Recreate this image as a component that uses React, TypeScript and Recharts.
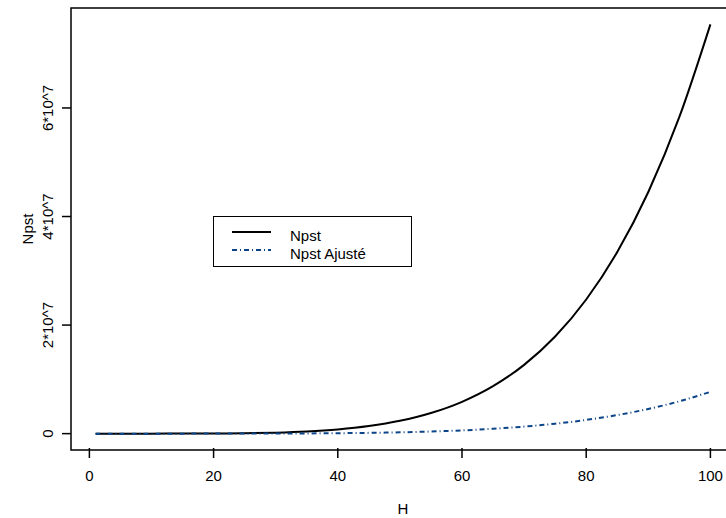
import React from "react";
import { LineChart, Line, XAxis, YAxis, ReferenceArea, Legend } from "recharts";

// values
const hValues = [1, 5, 10, 15, 20, 25, 30, 35, 40, 45, 50, 55, 60, 65, 70, 75, 80, 85, 90, 95, 100];
const npst = [
  0, 24, 754, 5725, 24130, 73630, 183200, 395900, 772100, 1391000, 2356000, 3795000,
  5863000, 8749000, 12670000, 17890000, 24710000, 33460000, 44520000, 58340000, 75400000,
];
const npstAjuste = [
  0, 2, 77, 585, 2460, 7520, 18700, 40400, 78800, 142000, 241000, 388000,
  599000, 893000, 1294000, 1827000, 2523000, 3417000, 4547000, 5958000, 7700000,
];

const xTicks = [0, 20, 40, 60, 80, 100];
const yTicks = [0, 20000000, 40000000, 60000000];
const yTickLabels = ["0", "2*10^7", "4*10^7", "6*10^7"];
const seriesNames = ["Npst", "Npst Ajusté"];

const xDomain = [-2.96, 103.96];
const yDomain = [-3016000, 78416000];

const FONT = '"Liberation Sans", Arial, Helvetica, sans-serif';
const BLUE = "#0B4587";

const data = hValues.map((h, i) => ({ h, npst: npst[i], ajuste: npstAjuste[i] }));

const XTick = ({ x, y, payload }: any) => (
  <g>
    <line x1={x} x2={x} y1={y - 10} y2={y} stroke="#000" strokeWidth={1.5} />
    <text x={x} y={y + 17} textAnchor="middle" dominantBaseline="central" fontSize={15} fontFamily={FONT} fill="#000">
      {payload.value}
    </text>
  </g>
);

const YTick = ({ x, y, payload }: any) => {
  const idx = yTicks.indexOf(payload.value);
  const lx = 48;
  return (
    <g>
      <line x1={62} x2={71} y1={y} y2={y} stroke="#000" strokeWidth={1.5} />
      <text
        x={lx}
        y={y}
        transform={`rotate(-90 ${lx} ${y})`}
        textAnchor="middle"
        dominantBaseline="central"
        fontSize={15}
        fontFamily={FONT}
        fill="#000"
      >
        {idx >= 0 ? yTickLabels[idx] : payload.value}
      </text>
    </g>
  );
};

const LegendBox = () => (
  <div
    style={{
      position: "absolute",
      left: 213,
      top: 216,
      width: 199,
      height: 51,
      border: "1.5px solid #000",
      background: "#fff",
      boxSizing: "border-box",
    }}
  >
    <svg width={196} height={48} style={{ position: "absolute", left: 0, top: 0 }}>
      <line x1={18} x2={57} y1={15} y2={15} stroke="#000" strokeWidth={2} />
      <line x1={18} x2={57} y1={33} y2={33} stroke={BLUE} strokeWidth={2} strokeDasharray="5 3 1 3" />
      <text x={76} y={18} dominantBaseline="central" fontSize={15} fontFamily={FONT} fill="#000">
        {seriesNames[0]}
      </text>
      <text x={76} y={36} dominantBaseline="central" fontSize={15} fontFamily={FONT} fill="#000">
        {seriesNames[1]}
      </text>
    </svg>
  </div>
);

export default function App() {
  return (
    <div style={{ position: "absolute", left: 0, top: 0, width: 726, height: 518, overflow: "hidden", background: "#fff" }}>
      <LineChart width={740} height={518} data={data} margin={{ top: 8, right: 5, bottom: 0, left: 0 }}>
        <XAxis
          dataKey="h"
          type="number"
          domain={xDomain}
          ticks={xTicks}
          allowDataOverflow
          axisLine={false}
          tickLine={false}
          height={68}
          tick={<XTick />}
          interval={0}
        />
        <YAxis
          type="number"
          domain={yDomain}
          ticks={yTicks}
          allowDataOverflow
          axisLine={false}
          tickLine={false}
          width={71}
          tick={<YTick />}
          interval={0}
        />
        <ReferenceArea
          x1={xDomain[0]}
          x2={xDomain[1]}
          y1={yDomain[0]}
          y2={yDomain[1]}
          fill="none"
          fillOpacity={0}
          stroke="#000"
          strokeWidth={1.5}
          strokeOpacity={1}
        />
        <Line
          type="monotone"
          dataKey="npst"
          name={seriesNames[0]}
          stroke="#000"
          strokeWidth={2}
          dot={false}
          isAnimationActive={false}
        />
        <Line
          type="monotone"
          dataKey="ajuste"
          name={seriesNames[1]}
          stroke={BLUE}
          strokeWidth={2}
          strokeDasharray="5 3 1 3"
          dot={false}
          isAnimationActive={false}
        />
        <Legend layout="vertical" align="center" verticalAlign="middle" content={() => null} />
      </LineChart>
      <svg width={726} height={518} style={{ position: "absolute", left: 0, top: 0, pointerEvents: "none" }}>
        <text
          x={27}
          y={229}
          transform="rotate(-90 27 229)"
          textAnchor="middle"
          dominantBaseline="central"
          fontSize={15}
          fontFamily={FONT}
          fill="#000"
        >
          Npst
        </text>
        <text x={403} y={508} textAnchor="middle" dominantBaseline="central" fontSize={15} fontFamily={FONT} fill="#000">
          H
        </text>
      </svg>
      <LegendBox />
    </div>
  );
}
